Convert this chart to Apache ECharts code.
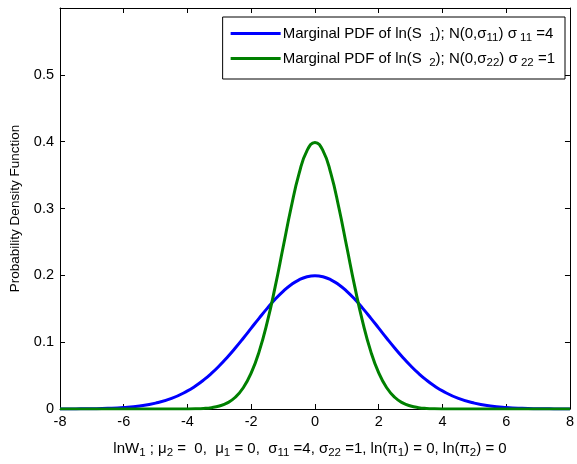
<!DOCTYPE html>
<html><head><meta charset="utf-8">
<script src="https://cdn.jsdelivr.net/npm/echarts@6/dist/echarts.min.js"></script>
<style>html,body{margin:0;padding:0;background:#fff}#c{width:577px;height:464px}</style>
</head><body><div id="c"></div>
<script>
const xs = [-8,-7.5,-7,-6.5,-6,-5.5,-5,-4.5,-4,-3.75,-3.5,-3.25,-3,-2.75,-2.5,-2.25,-2,-1.75,-1.5,-1.25,-1,-0.75,-0.5,-0.25,0,
  0.25,0.5,0.75,1,1.25,1.5,1.75,2,2.25,2.5,2.75,3,3.25,3.5,3.75,4,4.5,5,5.5,6,6.5,7,7.5,8];
const blueVals = [0.00007,0.00018,0.00044,0.00101,0.00222,0.00455,0.00876,0.01587,0.02700,0.03440,0.04314,0.05327,0.06476,0.07750,0.09132,0.10594,0.12099,0.13603,0.15057,0.16408,0.17603,0.18593,0.19333,0.19792,0.19947,
  0.19792,0.19333,0.18593,0.17603,0.16408,0.15057,0.13603,0.12099,0.10594,0.09132,0.07750,0.06476,0.05327,0.04314,0.03440,0.02700,0.01587,0.00876,0.00455,0.00222,0.00101,0.00044,0.00018,0.00007];
const greenVals = [0,0,0,0,0,0,0,0.00004,0.00013,0.00035,0.00087,0.00203,0.00443,0.00909,0.01753,0.03174,0.05399,0.08628,0.12952,0.18265,0.24197,0.30114,0.35207,0.38667,0.39894,
  0.38667,0.35207,0.30114,0.24197,0.18265,0.12952,0.08628,0.05399,0.03174,0.01753,0.00909,0.00443,0.00203,0.00087,0.00035,0.00013,0.00004,0,0,0,0,0,0,0];
const legendLabels = {
  s1: 'Marginal PDF of ln(S {s| 1}); N(0,σ{s|11}) σ{s| 11} =4',
  s2: 'Marginal PDF of ln(S {s| 2}); N(0,σ{s|22}) σ{s| 22} =1'
};
const xTitle = 'lnW{s|1} ; μ{s|2} =  0,  μ{s|1} = 0,  σ{s|11} =4, σ{s|22} =1, ln(π{s|1}) = 0, ln(π{s|2}) = 0';
const yTitle = 'Probability Density Function';

const font = 'Liberation Sans, Arial, sans-serif';
const sub = {fontSize: 11.5, fontFamily: font, color: '#000', padding: [9,0,0,0]};
const chart = echarts.init(document.getElementById('c'), null, {renderer: 'canvas'});
const pair = (ys) => xs.map((x, i) => [x, ys[i]]);
const axLine = {show: true, onZero: false, lineStyle: {color: '#000', width: 1}};
const axTick = {show: true, inside: true, length: 5, lineStyle: {color: '#000'}};
chart.setOption({
  animation: false,
  backgroundColor: '#fff',
  grid: {left: 56, right: 4, top: 8, bottom: 47, containLabel: false},
  legend: {
    orient: 'vertical', right: 12, top: 17,
    data: ['s1', 's2'],
    icon: 'rect', itemWidth: 50, itemHeight: 3, itemGap: 7,
    backgroundColor: '#fff', borderColor: '#000', borderWidth: 1, borderRadius: 0,
    padding: [9, 10, 10, 8],
    formatter: n => legendLabels[n],
    textStyle: {fontSize: 15, fontFamily: font, color: '#000', padding: [0,0,0,-3], rich: {s: sub}}
  },
  xAxis: [{
    type: 'value', min: -8, max: 8, interval: 2,
    axisLine: axLine, axisTick: axTick, splitLine: {show: false},
    axisLabel: {fontSize: 14.5, fontFamily: font, color: '#000', margin: 5},
    name: xTitle, nameLocation: 'middle', nameGap: 29,
    nameTextStyle: {fontSize: 15, fontFamily: font, color: '#000', padding: [0, 10, 0, 0], rich: {s: sub}}
  }, {
    type: 'value', min: -8, max: 8, interval: 2, position: 'top',
    axisLine: axLine, axisTick: axTick, axisLabel: {show: false}, splitLine: {show: false}
  }],
  yAxis: [{
    type: 'value', min: 0, max: 0.6, interval: 0.1,
    axisLine: axLine, axisTick: axTick, splitLine: {show: false},
    axisLabel: {fontSize: 14.5, fontFamily: font, color: '#000', margin: 6,
      formatter: v => (Math.abs(v - 0.6) < 1e-9 ? '' : (v === 0 ? '0' : v.toFixed(1)))},
    name: yTitle, nameLocation: 'middle', nameGap: 38,
    nameTextStyle: {fontSize: 13.5, fontFamily: font, color: '#000'}
  }, {
    type: 'value', min: 0, max: 0.6, interval: 0.1, position: 'right',
    axisLine: axLine, axisTick: axTick, axisLabel: {show: false}, splitLine: {show: false}
  }],
  series: [
    {name: 's1', type: 'line', data: pair(blueVals), smooth: true, symbol: 'none',
     lineStyle: {color: '#0000ff', width: 3}, itemStyle: {color: '#0000ff'}},
    {name: 's2', type: 'line', data: pair(greenVals), smooth: true, symbol: 'none',
     lineStyle: {color: '#008000', width: 3}, itemStyle: {color: '#008000'}}
  ]
});
</script></body></html>
